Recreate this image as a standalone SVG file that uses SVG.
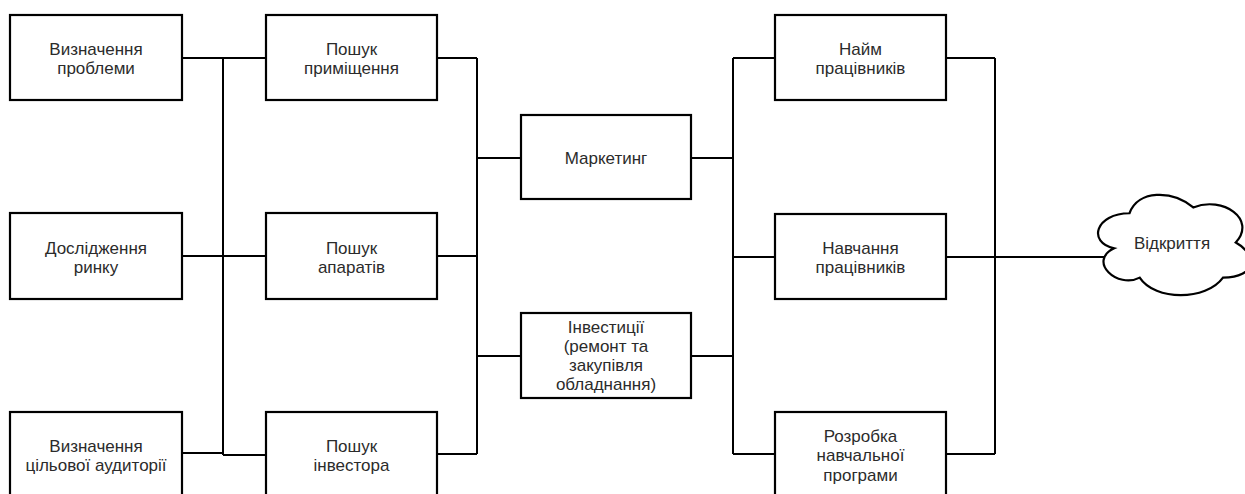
<svg xmlns="http://www.w3.org/2000/svg" width="1245" height="494" viewBox="0 0 1245 494">
<style>
.box{fill:#fff;stroke:#000;stroke-width:2.2}
.t{font-family:"Liberation Sans",Arial,sans-serif;font-size:17px;fill:#2b2b2b;text-anchor:middle}
.c{fill:none;stroke:#000;stroke-width:2}
</style>
<rect width="1245" height="494" fill="#fff"/>
<g id="connectors">
<path class="c" d="M182 58H266M182 256H266M182 453H223M223 455H266M223 58V455"/>
<path class="c" d="M437 58H477M437 256H477M437 454H477M477 58V454M477 158H521M477 356H521"/>
<path class="c" d="M691 158H733M691 356H733M733 58V454M733 58H775M733 257H775M733 454H775"/>
<path class="c" d="M946 58H995M946 454H995M995 58V454M946 257H1104"/>
</g>
<g id="n1"><rect class="box" x="10" y="15" width="172" height="85"/><text class="t" x="96" y="55">Визначення</text><text class="t" x="96" y="74">проблеми</text></g>
<g id="n2"><rect class="box" x="10" y="213" width="172" height="86"/><text class="t" x="96" y="253.5">Дослідження</text><text class="t" x="96" y="272.5">ринку</text></g>
<g id="n3"><rect class="box" x="10" y="412" width="172" height="85"/><text class="t" x="96" y="451.5">Визначення</text><text class="t" x="96" y="471">цільової аудиторії</text></g>
<g id="n4"><rect class="box" x="266" y="15" width="171" height="85"/><text class="t" x="351.5" y="55">Пошук</text><text class="t" x="351.5" y="74">приміщення</text></g>
<g id="n5"><rect class="box" x="266" y="213" width="171" height="86"/><text class="t" x="351.5" y="253.5">Пошук</text><text class="t" x="351.5" y="272.5">апаратів</text></g>
<g id="n6"><rect class="box" x="266" y="412" width="171" height="85"/><text class="t" x="351.5" y="451.5">Пошук</text><text class="t" x="351.5" y="471">інвестора</text></g>
<g id="n7"><rect class="box" x="521" y="115" width="170" height="84"/><text class="t" x="606" y="164">Маркетинг</text></g>
<g id="n8"><rect class="box" x="521" y="313" width="170" height="85"/><text class="t" x="606" y="333">Інвестиції</text><text class="t" x="606" y="352">(ремонт та</text><text class="t" x="606" y="371">закупівля</text><text class="t" x="606" y="390">обладнання)</text></g>
<g id="n9"><rect class="box" x="775" y="15" width="171" height="85"/><text class="t" x="860.5" y="55">Найм</text><text class="t" x="860.5" y="74">працівників</text></g>
<g id="n10"><rect class="box" x="775" y="214" width="171" height="85"/><text class="t" x="860.5" y="254">Навчання</text><text class="t" x="860.5" y="273">працівників</text></g>
<g id="n11"><rect class="box" x="775" y="412" width="171" height="85"/><text class="t" x="860.5" y="441.5">Розробка</text><text class="t" x="860.5" y="461">навчальної</text><text class="t" x="860.5" y="480.5">програми</text></g>
<g id="n12"><path class="box" d="M1129.5 213.25C1095.5 213.25 1087 242.5 1114.2 248.35C1087 261.2 1117.6 289.3 1139.7 277.6C1155 301 1206 301 1223 277.6C1257 277.6 1257 254.2 1235.75 242.5C1257 219.1 1223 195.7 1193.25 207.4C1172 189.85 1138 189.85 1129.5 213.25Z"/><text class="t" x="1172" y="249">Відкриття</text></g>
</svg>
